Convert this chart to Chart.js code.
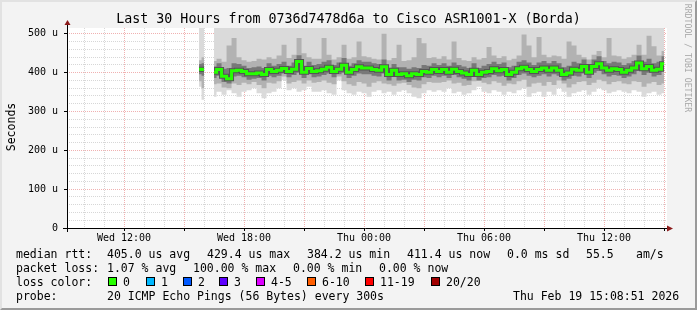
<!DOCTYPE html>
<html>
<head>
<meta charset="utf-8">
<script src="https://cdn.jsdelivr.net/npm/chart.js@4.4.1/dist/chart.umd.min.js"></script>
<style>
  html, body { margin: 0; padding: 0; background: #f3f3f3; overflow: hidden; }
  #frame {
    position: absolute; left: 0; top: 0; width: 697px; height: 310px;
    box-sizing: border-box; border: 2px solid; border-color: #e2e2e2 #9a9a9a #9a9a9a #e2e2e2;
  }
  canvas { position: absolute; left: 0; top: 0; }
  .txt { position: absolute; font-family: 'DejaVu Sans Mono', monospace; color: #000; white-space: pre; }
  .leg { font-size: 11.5px; line-height: 14px; }
  .box { position: absolute; width: 7px; height: 7px; border: 1px solid #000; }
</style>
</head>
<body>
<div id="frame"></div>
<canvas id="chart" width="697" height="310"></canvas>

<div class="txt" style="left:0;width:697px;top:11px;text-align:center;font-size:13.3px;line-height:16px;">Last 30 Hours from 0736d7478d6a to Cisco ASR1001-X (Borda)</div>
<div class="txt" style="left:-19px;top:120px;width:60px;text-align:center;font-size:11.5px;line-height:14px;transform:rotate(-90deg);">Seconds</div>
<div class="txt" style="left:633px;top:53px;width:110px;text-align:center;font-size:8.2px;line-height:10px;color:#a8a8a8;transform:rotate(90deg);">RRDTOOL / TOBI OETIKER</div>

<div id="legend"></div>

<script>
// ─── Data (5-minute RRD, shown at 15 min steps) ──────
const START_HOUR = 15.75;   // Wed 15:45
const STEP_HOURS = 0.25;

const MEDIAN = [
  409,408,null,401,408,391,384,405,406,403,397,397,399,395,408,403,406,411,403,409,429,401,411,403,
  405,409,414,403,409,419,401,408,415,412,412,408,406,415,395,406,395,397,392,397,395,403,401,408,
  403,408,401,409,403,399,395,406,395,401,403,410,405,408,395,401,410,414,408,403,408,412,406,412,
  406,395,399,409,406,416,401,416,423,412,406,410,408,401,406,412,425,410,416,406,409,423
];
const SMOKE_LOW = [
  364,330,null,338,351,343,355,347,338,351,355,360,347,334,347,351,360,381,355,360,351,355,364,351,
  351,355,347,343,380,355,347,343,351,347,338,351,355,347,351,343,351,355,347,338,334,347,355,351,
  355,351,360,347,351,343,347,355,364,351,347,355,351,343,351,347,355,360,338,347,351,338,351,343,
  360,351,338,347,351,355,343,351,360,355,347,351,355,351,347,355,351,338,347,351,343,347
];
const MID_LOW = [
  378,360,null,370,372,362,360,372,368,374,370,376,368,360,374,372,378,390,372,376,380,372,380,374,
  376,380,374,370,390,378,370,366,376,372,364,374,378,372,370,366,372,374,368,362,360,370,376,374,
  374,376,380,372,374,366,368,378,380,374,370,378,374,366,372,370,378,382,364,372,374,366,376,368,
  380,372,362,370,376,378,368,374,382,378,370,376,378,372,370,378,376,364,372,376,368,372
];
const MID_HIGH = [
  432,440,null,430,436,428,470,489,440,432,428,430,436,434,440,436,444,472,438,446,489,450,440,436,
  436,489,446,434,440,472,436,440,480,442,440,436,434,500,432,438,472,430,432,440,489,476,438,440,
  436,442,434,480,438,432,430,440,434,438,466,444,438,442,432,436,444,498,470,440,492,446,440,444,
  442,436,480,470,446,440,434,446,456,440,489,444,442,436,440,446,472,446,495,468,444,456
];
const CORE_LOW = [
  396,392,null,386,392,376,372,390,392,388,382,384,386,380,392,388,392,398,388,394,400,386,396,388,
  390,394,398,388,396,400,386,392,398,396,396,392,390,398,380,390,380,382,376,382,380,388,386,392,
  388,392,386,394,388,384,380,390,380,386,388,394,390,392,380,386,394,398,392,388,392,396,390,396,
  392,380,384,392,390,398,386,400,404,396,390,394,392,386,390,396,404,394,400,390,394,404
];
const CORE_HIGH = [
  422,424,null,416,424,410,412,424,422,418,412,414,416,412,424,418,422,428,418,426,445,418,428,420,
  422,428,432,420,426,438,418,424,432,428,428,424,422,434,412,422,414,414,410,414,412,420,418,424,
  420,424,418,426,420,416,412,424,412,418,422,428,422,426,414,418,428,432,426,420,426,430,424,430,
  424,414,418,428,424,434,420,434,442,430,424,428,426,420,424,430,444,428,436,424,428,442
];

const X_MIN = 9.1475, X_MAX = 39.1475;       // Wed 09:08:51 .. Thu 15:08:51
const X_TICK_HOURS  = [12, 18, 24, 30, 36];
const X_TICK_LABELS = ['Wed 12:00', 'Wed 18:00', 'Thu 00:00', 'Thu 06:00', 'Thu 12:00'];
const Y_TICK_VALUES = [0, 100, 200, 300, 400, 500];
const Y_TICK_LABELS = ['0', '100 u', '200 u', '300 u', '400 u', '500 u'];

const LOSS_LABELS = ['0', '1', '2', '3', '4-5', '6-10', '11-19', '20/20'];
const LOSS_COLORS = ['#26ff00', '#00b8ff', '#0059ff', '#5e00ff', '#dd00ff', '#ff5e00', '#ff0000', '#a10000'];

const TIMES = MEDIAN.map((_, i) => START_HOUR + i * STEP_HOURS);
const pts = arr => arr.map((v, i) => ({ x: TIMES[i], y: v }));

const GRID_MINOR = 'rgba(175,175,175,0.5)';
const GRID_MAJOR = 'rgba(225,100,100,0.5)';
const MONO = 'DejaVu Sans Mono';

// ─── Legend block (rrdtool style) ─────────────────
function legendText(x, y, s) {
  return `<div class="txt leg" style="left:${x}px;top:${y - 7}px">${s}</div>`;
}
function buildLegend() {
  let h = '';
  h += legendText(16, 254, 'median rtt:');
  [[107, '405.0 us avg'], [207, '429.4 us max'], [307, '384.2 us min'], [407, '411.4 us now'],
   [507, '0.0 ms sd'], [586, '55.5'], [636, 'am/s']].forEach(([x, s]) => h += legendText(x, 254, s));
  h += legendText(16, 268, 'packet loss:');
  [[107, '1.07 % avg'], [193, '100.00 % max'], [293, '0.00 % min'], [379, '0.00 % now']]
    .forEach(([x, s]) => h += legendText(x, 268, s));
  h += legendText(16, 282, 'loss color:');
  const boxX = [108, 146, 183, 219, 256, 307, 365, 431];
  LOSS_LABELS.forEach((lab, i) => {
    h += `<div class="box" style="left:${boxX[i]}px;top:277px;background:${LOSS_COLORS[i]}"></div>`;
    h += legendText(boxX[i] + 15, 282, lab);
  });
  h += legendText(16, 296, 'probe:');
  h += legendText(107, 296, '20 ICMP Echo Pings (56 Bytes) every 300s');
  h += legendText(513, 296, 'Thu Feb 19 15:08:51 2026');
  document.getElementById('legend').innerHTML = h;
}

// ─── Plot background + axis arrows ────────────────
const frameDecor = {
  id: 'frameDecor',
  beforeDraw(chart) {
    const { ctx, chartArea: a } = chart;
    ctx.save();
    ctx.fillStyle = '#ffffff';
    ctx.fillRect(a.left, a.top, a.right - a.left, a.bottom - a.top);
    ctx.restore();
  },
  afterDraw(chart) {
    const { ctx, chartArea: a } = chart;
    ctx.save();
    ctx.strokeStyle = '#000';
    ctx.lineWidth = 1;
    ctx.beginPath();
    ctx.moveTo(a.left + 0.5, a.bottom + 4);
    ctx.lineTo(a.left + 0.5, a.top - 4);
    ctx.moveTo(a.left - 4, a.bottom + 0.5);
    ctx.lineTo(a.right + 1, a.bottom + 0.5);
    ctx.stroke();
    ctx.fillStyle = '#8b1a1a';
    ctx.beginPath();
    ctx.moveTo(a.left - 2.5, a.top - 3);
    ctx.lineTo(a.left + 3.5, a.top - 3);
    ctx.lineTo(a.left + 0.5, a.top - 8);
    ctx.closePath();
    ctx.fill();
    ctx.beginPath();
    ctx.moveTo(a.right, a.bottom - 2.5);
    ctx.lineTo(a.right, a.bottom + 3.5);
    ctx.lineTo(a.right + 6, a.bottom + 0.5);
    ctx.closePath();
    ctx.fill();
    ctx.restore();
  }
};

// ─── Chart ────────────────────────────────────────
function band(data, color, fill) {
  return { data: pts(data), borderWidth: 0, pointRadius: 0, stepped: 'middle',
           backgroundColor: color, borderColor: 'transparent', fill: fill, spanGaps: false };
}

function drawChart() {
  new Chart(document.getElementById('chart'), {
    type: 'line',
    data: {
      datasets: [
        { data: pts(MEDIAN), borderColor: '#26ff00', borderWidth: 3, pointRadius: 0,
          stepped: 'middle', fill: false, spanGaps: false },
        { data: pts(MEDIAN), borderColor: '#555555', borderWidth: 5, pointRadius: 0,
          stepped: 'middle', fill: false, spanGaps: false },
        band(CORE_HIGH, '#787878', '+1'),
        band(CORE_LOW, 'transparent', false),
        band(MID_HIGH, '#b2b2b2', '+1'),
        band(MID_LOW, 'transparent', false),
        band(SMOKE_LOW, '#dadada', 'end')
      ]
    },
    options: {
      responsive: false, animation: false, devicePixelRatio: 1,
      layout: { padding: { left: 0, top: 28, right: 30, bottom: 66 } },
      plugins: { legend: { display: false }, tooltip: { enabled: false } },
      scales: {
        x: {
          type: 'linear', min: X_MIN, max: X_MAX, z: 1,
          afterFit: s => { s.height = 16; },
          afterBuildTicks: s => {
            const t = [];
            for (let h = Math.ceil(X_MIN); h <= X_MAX; h++) t.push({ value: h });
            s.ticks = t;
          },
          grid: {
            color: c => (c.tick && c.tick.value % 3 === 0) ? GRID_MAJOR : GRID_MINOR,
            tickColor: c => (c.tick && c.tick.value % 3 === 0) ? '#000' : 'transparent',
            tickLength: 3, lineWidth: 1
          },
          border: { display: false, dash: [1, 1] },
          ticks: {
            autoSkip: false, maxRotation: 0, padding: 1, color: '#000',
            font: { family: MONO, size: 10 },
            callback: v => { const k = X_TICK_HOURS.indexOf(v); return k >= 0 ? X_TICK_LABELS[k] : ''; }
          }
        },
        y: {
          min: 0, max: 515, z: 1,
          afterFit: s => { s.width = 67; },
          afterBuildTicks: s => {
            const t = [];
            for (let v = 0; v <= 500; v += 20) t.push({ value: v });
            s.ticks = t;
          },
          grid: {
            color: c => (c.tick && c.tick.value % 100 === 0) ? GRID_MAJOR : GRID_MINOR,
            tickColor: c => (c.tick && c.tick.value % 100 === 0) ? '#000' : 'transparent',
            tickLength: 3, lineWidth: 1
          },
          border: { display: false, dash: [1, 1] },
          ticks: {
            autoSkip: false, padding: 6, color: '#000',
            font: { family: MONO, size: 10 },
            callback: v => { const k = Y_TICK_VALUES.indexOf(v); return k >= 0 ? Y_TICK_LABELS[k] : ''; }
          }
        }
      }
    },
    plugins: [frameDecor]
  });
}

buildLegend();
drawChart();
</script>
</body>
</html>
